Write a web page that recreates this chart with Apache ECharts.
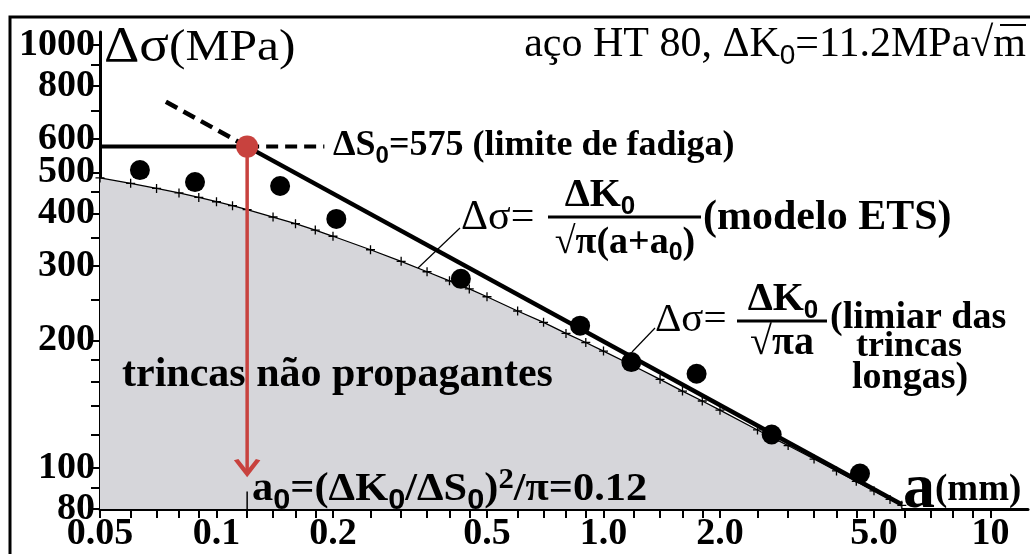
<!DOCTYPE html>
<html><head><meta charset="utf-8">
<script src="https://cdn.jsdelivr.net/npm/echarts@6/dist/echarts.min.js"></script>
<style>html,body{margin:0;padding:0;background:#fff}#c{width:1030px;height:554px}</style>
</head><body><div id="c"></div>
<script>
// ---- data ----
const xTickValues = [0.05,0.06,0.07,0.08,0.09,0.1,0.12,0.14,0.16,0.18,0.2,0.25,0.3,0.35,0.4,0.45,0.5,0.6,0.7,0.8,0.9,1,1.2,1.4,1.6,1.8,2,2.5,3,3.5,4,4.5,5,6,7,8,9,10];
const xLabelValues = [0.05,0.1,0.2,0.5,1,2,5,10];
const xLabelTexts = ['0.05','0.1','0.2','0.5','1.0','2.0','5.0','10'];
const yTickValues = [80,90,100,120,140,160,180,200,250,300,350,400,450,500,600,700,800,900,1000];
const yLabelValues = [80,100,200,300,400,500,600,800,1000];
const yLabelTexts = ['80','100','200','300','400','500','600','800','1000'];

// ETS model curve (with + markers)
const etsA = [0.05,0.06,0.07,0.08,0.09,0.1,0.11,0.12,0.14,0.16,0.18,0.2,0.25,0.3,0.35,0.4,0.45,0.5,0.6,0.7,0.8,0.9,1.0,1.2,1.4,1.6,1.8,2.0,2.5,3.0,3.5,4.0,4.5,5.0,5.5,5.9];
const etsS = [485,471,458,447,436,426,417,408,392,378,365,353,328,308,291,277,265,254,235,221,208,198,189,174,162,152,144,137,123,113,105,98.4,93,88.3,84.3,81.6];
// long crack threshold line
const longA = [0.12,5.9];
const longS = [575,82];
const longDashA = [0.074,0.12];
const longDashS = [734,575];
// fatigue limit
const fatA = [0.05,0.12];
const fatS = [575,575];
const fatDashA = [0.12,0.19];
const fatDashS = [575,575];
// measured points
const ptA = [0.0634,0.088,0.146,0.204,0.428,0.87,1.18,1.74,2.72,4.6];
const ptS = [506,474,464,388,280,217,178,167,120,97];
// a0 marker
const a0 = 0.12;
const dS0 = 575;
const arrowEndS = 97;

const SERIF = "'Liberation Serif','Times New Roman',serif";
const SANS = "'Liberation Sans',Arial,sans-serif";
const zip = (a,b)=>a.map((v,i)=>[v,b[i]]);

const chart = echarts.init(document.getElementById('c'), null, {renderer:'canvas'});

function fmtX(v){ let i=xLabelValues.findIndex(t=>Math.abs(t-v)/t<1e-6); return i>=0?xLabelTexts[i]:''; }
function fmtY(v){ let i=yLabelValues.findIndex(t=>Math.abs(t-v)/t<1e-6); return i>=0?yLabelTexts[i]:''; }

function tok(text){
  const parts=[]; const re=/\{(\w+)\|([^}]*)\}/g; let last=0, m;
  while((m=re.exec(text))){ if(m.index>last) parts.push('{n|'+text.slice(last,m.index)+'}'); parts.push(m[0]); last=re.lastIndex; }
  if(last<text.length) parts.push('{n|'+text.slice(last)+'}');
  return parts.join('');
}
function T(x,y,text,size,opt){
  opt=opt||{};
  const w = opt.weight||'bold';
  const bs = opt.big||size;
  const fs = Math.round(size*(opt.subScale||0.66));
  return {type:'text', x:x, y:y, z:100, scaleX:opt.sx||1,
    style:{text:tok(text), fontFamily:SERIF, fontSize:size, fontWeight:w, fill:'#000',
      align:opt.align||'left', verticalAlign:'middle',
      rich:{
        n:{fontFamily:SERIF, fontSize:size, fontWeight:w, fill:'#000'},
        s:{fontFamily:SANS, fontSize:fs, fontWeight:w, fill:'#000', padding:[Math.round(size*0.55),0,0,0]},
        p:{fontFamily:SERIF, fontSize:fs, fontWeight:w, fill:'#000', padding:[0,0,Math.round(size*0.45),0]},
        b:{fontFamily:SERIF, fontSize:bs, fontWeight:w, fill:'#000'}}}};
}
function L(x1,y1,x2,y2,w){ return {type:'line', z:100, shape:{x1,y1,x2,y2}, style:{stroke:'#000', lineWidth:w||1.2}}; }

const graphics = [
  {type:'rect', z:200, shape:{x:10,y:17,width:1040,height:600}, style:{fill:'none', stroke:'#000', lineWidth:3}},
  T(104,48,'{b|Δσ}(MPa)',45,{weight:'normal', big:50, sx:1.1}),
  T(1026,45,'aço HT 80, ΔK{s|0}=11.2MPa√m',42,{weight:'normal', align:'right'}),
  L(1000,25,1026,25,2),
  T(333,146,'ΔS{s|0}=575 (limite de fadiga)',36),
  // ETS formula
  T(461,218,'Δσ=',42,{weight:'normal'}),
  T(600,196,'ΔK{s|0}',40,{align:'center'}),
  L(548,217,701,217,3),
  T(625,243,'√π(a+a{s|0})',38,{align:'center'}),
  T(703,218,'(modelo ETS)',42),
  L(460,228,418,268,1.2),
  // long crack formula
  T(655,320,'Δσ=',41,{weight:'normal'}),
  T(783,300,'ΔK{s|0}',40,{align:'center'}),
  L(737,321,827,321,3),
  T(782,344,'√πa',40,{align:'center'}),
  T(830,318,'(limiar das',38),
  T(856,347,'trincas',36),
  T(852,378,'longas)',38),
  L(655,328,632,352,1.2),
  // region label
  T(122,375,'trincas não propagantes',42),
  T(252,490,'a{s|0}=(ΔK{s|0}/ΔS{s|0}){p|2}/π=0.12',40,{subScale:0.72, sx:1.06}),
  T(903,490,'{b|a}(mm)',37,{big:64}),
];

const option = {
  animation:false,
  backgroundColor:'#fff',
  textStyle:{fontFamily:SERIF},
  grid:{left:100, right:2, top:32, bottom:45, containLabel:false},
  xAxis:{type:'log', min:0.05, max:12.5, logBase:10,
    axisLine:{show:true, lineStyle:{color:'#000', width:3}},
    axisTick:{show:true, length:9, lineStyle:{color:'#000', width:2}, customValues:xTickValues},
    minorTick:{show:false}, splitLine:{show:false},
    axisLabel:{show:true, customValues:xLabelValues, formatter:fmtX, color:'#000', fontFamily:SERIF, fontWeight:'bold', fontSize:38, margin:6}
  },
  yAxis:{type:'log', min:80, max:1073, logBase:10,
    axisLine:{show:true, lineStyle:{color:'#000', width:3}},
    axisTick:{show:true, length:9, lineStyle:{color:'#000', width:2}, customValues:yTickValues},
    splitLine:{show:false},
    axisLabel:{show:true, customValues:yLabelValues, formatter:fmtY, color:'#000', fontFamily:SERIF, fontWeight:'bold', fontSize:38, margin:5}
  },
  series:[
    {type:'line', name:'ETS', data:zip(etsA,etsS), z:3,
      symbol:'path://M5,0L5,10M0,5L10,5', symbolSize:9, showSymbol:true,
      itemStyle:{color:'#000', borderColor:'#000', borderWidth:1.3, opacity:1},
      lineStyle:{color:'#000', width:1.3},
      areaStyle:{color:'#d6d6da', opacity:1, origin:'start'}},
    {type:'line', data:zip(longA,longS), symbol:'none', z:4, lineStyle:{color:'#000', width:4.5}},
    {type:'line', data:zip(longDashA,longDashS), symbol:'none', z:4, lineStyle:{color:'#000', width:4.5, type:[13,7]}},
    {type:'line', data:zip(fatA,fatS), symbol:'none', z:4, lineStyle:{color:'#000', width:4}},
    {type:'line', data:zip(fatDashA,fatDashS), symbol:'none', z:4, lineStyle:{color:'#000', width:4, type:[12,7]}},
    {type:'line', data:[[a0,80],[a0,88]], symbol:'none', z:4, lineStyle:{color:'#000', width:1.5}},
    {type:'scatter', data:zip(ptA,ptS), symbol:'circle', symbolSize:20, z:5, itemStyle:{color:'#000', opacity:1}},
    {type:'line', z:6, data:[{value:[a0,dS0], symbol:'none'},{value:[a0,arrowEndS], symbol:'path://M0,0L10,11L20,0', symbolSize:[22,14], symbolOffset:[0,-7]}],
      lineStyle:{color:'#c8423e', width:3.5}, itemStyle:{color:'none', borderColor:'#c8423e', borderWidth:4, opacity:1}},
    {type:'scatter', z:7, data:[[a0,dS0]], symbol:'circle', symbolSize:22, itemStyle:{color:'#c8423e', opacity:1}},
  ],
  graphic:graphics
};
chart.setOption(option);
</script></body></html>
